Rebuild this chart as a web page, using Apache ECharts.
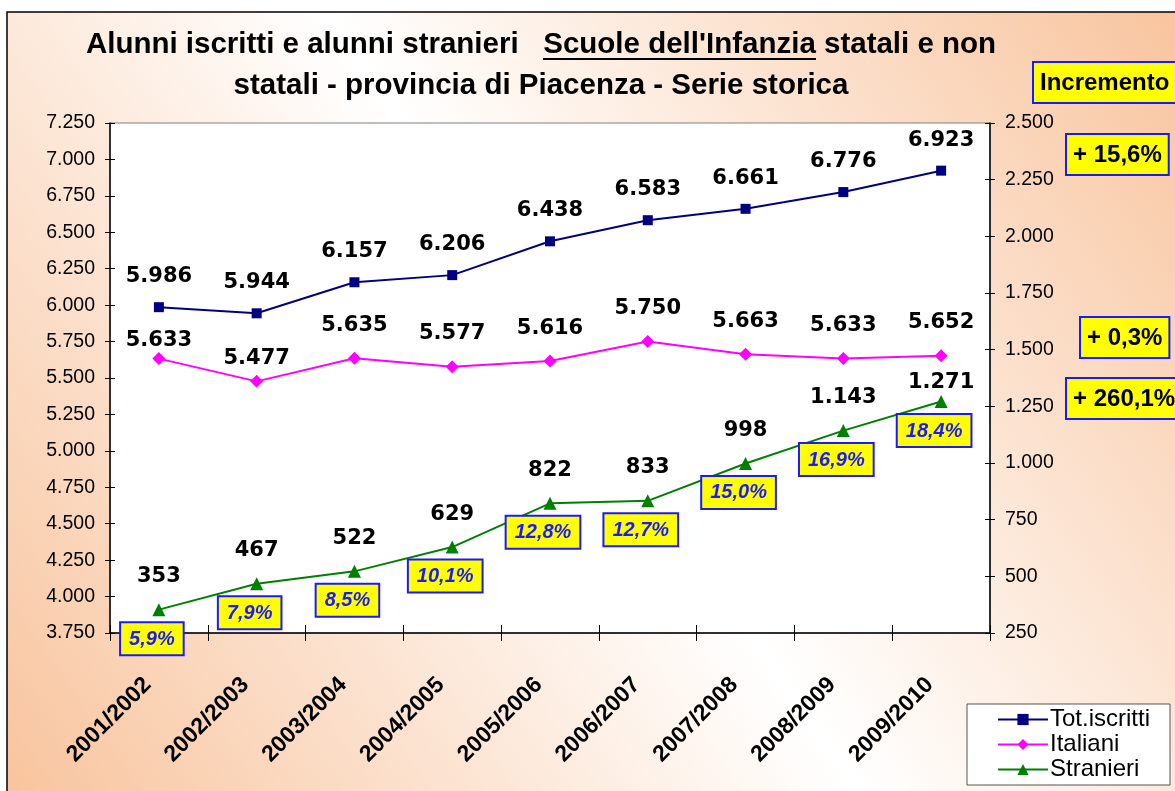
<!DOCTYPE html>
<html><head><meta charset="utf-8">
<script src="https://cdn.jsdelivr.net/npm/echarts@6/dist/echarts.min.js"></script>
<style>html,body{margin:0;padding:0;background:#fff}#c{width:1175px;height:791px}</style>
</head><body><div id="c"></div>
<script>
// ---- data ----
const categories = ['2001/2002','2002/2003','2003/2004','2004/2005','2005/2006','2006/2007','2007/2008','2008/2009','2009/2010'];
const totIscritti = [5986, 5944, 6157, 6206, 6438, 6583, 6661, 6776, 6923];
const italiani    = [5633, 5477, 5635, 5577, 5616, 5750, 5663, 5633, 5652];
const stranieri   = [353, 467, 522, 629, 822, 833, 998, 1143, 1271];
const quotaStranieri = [5.9, 7.9, 8.5, 10.1, 12.8, 12.7, 15.0, 16.9, 18.4];
const incrementi = [15.6, 0.3, 260.1]; // Tot.iscritti, Italiani, Stranieri
const leftMin = 3750, leftMax = 7250, leftStep = 250;
const rightMin = 250, rightMax = 2500, rightStep = 250;
const seriesNames = ['Tot.iscritti', 'Italiani', 'Stranieri'];

// ---- helpers / styles ----
const fmt = v => String(Math.round(v)).replace(/\B(?=(\d{3})+(?!\d))/g, '.');
const pct = v => v.toFixed(1).replace('.', ',') + '%';
const itaLabelDist = [1, 6, 16, 16, 16, 16, 16, 16, 16];
const straLabelDist = [16, 16, 16, 16, 16, 16, 16, 16, 2];

const chart = echarts.init(document.getElementById('c'));
const valLabel = {
  show: true, position: 'top', distance: 15, color: '#000',
  fontFamily: 'DejaVu Sans', fontWeight: 'bold', fontSize: 21,
  formatter: p => fmt(p.value)
};
const incBox = (txt, x, y) => ({
  type: 'text', x: x, y: y, z: 50,
  style: {
    text: txt, font: 'bold 24px "Liberation Sans", Arial', fill: '#000',
    align: 'left', verticalAlign: 'top', textAlign: 'left', textVerticalAlign: 'top',
    backgroundColor: '#ffff00', borderColor: '#1a1aff', borderWidth: 2,
    padding: [8, 6, 7, 6]
  }
});
const titleFont = 'bold 29.5px "Liberation Sans", Arial';

const option = {
  animation: false,
  graphic: [
    { type: 'rect', z: -10, silent: true,
      shape: { x: 7, y: 12, width: 1200, height: 820 },
      style: {
        fill: new echarts.graphic.LinearGradient(0, 1, 1, 0, [
          { offset: 0, color: '#f8c29a' },
          { offset: 0.5, color: '#ffffff' },
          { offset: 1, color: '#f8c29a' }
        ]),
        stroke: '#000', lineWidth: 1.5
      }
    },
    { type: 'text', x: 541, y: 45, z: 50,
      style: { text: "Alunni iscritti e alunni stranieri   Scuole dell'Infanzia statali e non",
        font: titleFont, fill: '#000',
        align: 'center', verticalAlign: 'middle', textAlign: 'center', textVerticalAlign: 'middle' } },
    { type: 'text', x: 541, y: 86, z: 50,
      style: { text: 'statali - provincia di Piacenza - Serie storica',
        font: titleFont, fill: '#000',
        align: 'center', verticalAlign: 'middle', textAlign: 'center', textVerticalAlign: 'middle' } },
    { type: 'line', z: 50, shape: { x1: 543, y1: 59, x2: 816, y2: 59 }, style: { stroke: '#000', lineWidth: 2 } },
    incBox('Incremento', 1034, 63),
    incBox('+ ' + pct(incrementi[0]), 1067, 135),
    incBox('+ ' + pct(incrementi[1]), 1081, 318),
    incBox('+ ' + pct(incrementi[2]), 1067, 379)
  ],
  grid: { left: 110, right: 185, top: 123, bottom: 158, show: true,
    backgroundColor: '#ffffff', borderColor: '#808080', borderWidth: 1 },
  legend: {
    data: seriesNames, orient: 'vertical', left: 967, top: 704,
    itemWidth: 50, itemHeight: 14, itemGap: 0,
    padding: [3, 20, 3, 30],
    backgroundColor: '#ffffff', borderColor: '#555', borderWidth: 1, borderRadius: 0,
    textStyle: { color: '#000', fontSize: 24, lineHeight: 25, fontFamily: '"Liberation Sans", Arial', padding: [0,0,0,-3] }
  },
  xAxis: [
    { type: 'category', data: categories, boundaryGap: true,
      axisLine: { lineStyle: { color: '#000', width: 1.5 } },
      axisTick: { show: true, inside: false, length: 8, lineStyle: { color: '#000' } },
      axisLabel: { interval: 0, rotate: 45, margin: 37, padding: [0, 16, 0, 0], color: '#000',
        fontFamily: '"Liberation Sans", Arial', fontWeight: 'bold', fontSize: 23 },
      splitLine: { show: false } },
    { type: 'category', data: categories, boundaryGap: true, position: 'bottom',
      axisLine: { show: false },
      axisTick: { show: true, inside: true, length: 8, lineStyle: { color: '#000' } },
      axisLabel: { show: false }, splitLine: { show: false } }
  ],
  yAxis: [
    { type: 'value', min: leftMin, max: leftMax, interval: leftStep, position: 'left',
      axisLine: { show: true, lineStyle: { color: '#000', width: 1.5 } },
      axisTick: { show: true, length: 5, lineStyle: { color: '#000' } },
      axisLabel: { color: '#000', fontSize: 19.5, fontFamily: '"Liberation Sans", Arial', margin: 15, formatter: fmt },
      splitLine: { show: false } },
    { type: 'value', min: rightMin, max: rightMax, interval: rightStep, position: 'right',
      axisLine: { show: true, lineStyle: { color: '#000', width: 1.5 } },
      axisTick: { show: true, length: 5, lineStyle: { color: '#000' } },
      axisLabel: { color: '#000', fontSize: 19.5, fontFamily: '"Liberation Sans", Arial', margin: 15, formatter: fmt },
      splitLine: { show: false } },
    { type: 'value', min: leftMin, max: leftMax, interval: leftStep, position: 'left',
      axisLine: { show: false }, axisTick: { show: true, inside: true, length: 5, lineStyle: { color: '#000' } },
      axisLabel: { show: false }, splitLine: { show: false } },
    { type: 'value', min: rightMin, max: rightMax, interval: rightStep, position: 'right',
      axisLine: { show: false }, axisTick: { show: true, inside: true, length: 5, lineStyle: { color: '#000' } },
      axisLabel: { show: false }, splitLine: { show: false } }
  ],
  series: [
    { name: seriesNames[0], type: 'line', yAxisIndex: 0, data: totIscritti,
      symbol: 'rect', symbolSize: 10,
      lineStyle: { color: '#000080', width: 2 }, itemStyle: { color: '#000080' },
      label: valLabel },
    { name: seriesNames[1], type: 'line', yAxisIndex: 0,
      data: italiani.map((v, i) => ({ value: v, label: { distance: itaLabelDist[i] } })),
      symbol: 'diamond', symbolSize: 13,
      lineStyle: { color: '#ff00ff', width: 2 }, itemStyle: { color: '#ff00ff' },
      label: valLabel },
    { name: seriesNames[2], type: 'line', yAxisIndex: 1,
      data: stranieri.map((v, i) => ({ value: v, label: { distance: straLabelDist[i] } })),
      symbol: 'triangle', symbolSize: 13,
      lineStyle: { color: '#008000', width: 2 }, itemStyle: { color: '#008000' },
      label: valLabel },
    { name: 'quota', type: 'line', yAxisIndex: 1, data: stranieri, silent: true, z: 10,
      symbol: 'circle', symbolSize: 1, itemStyle: { color: 'rgba(0,0,0,0)' },
      lineStyle: { width: 0, opacity: 0 },
      label: { show: true, position: 'bottom', distance: 13, offset: [-7, 0],
        formatter: p => pct(quotaStranieri[p.dataIndex]),
        color: '#1a1aff', fontFamily: '"Liberation Sans", Arial', fontStyle: 'italic', fontWeight: 'bold', fontSize: 20,
        backgroundColor: '#ffff00', borderColor: '#1a1aff', borderWidth: 2, padding: [6, 8, 5, 8] } }
  ]
};
chart.setOption(option);
</script>
</body></html>
